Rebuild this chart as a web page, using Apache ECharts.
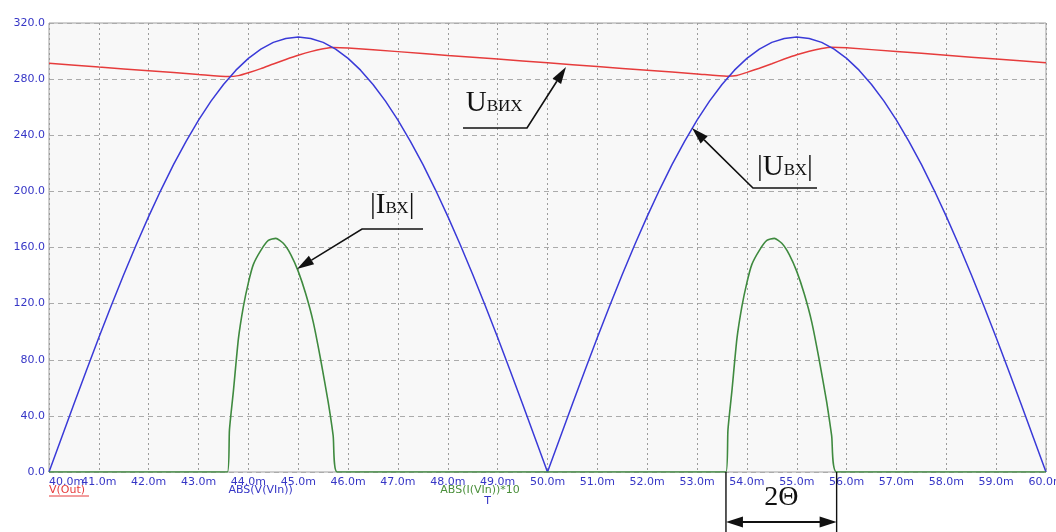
<!DOCTYPE html>
<html><head><meta charset="utf-8">
<script src="https://cdn.jsdelivr.net/npm/echarts@6/dist/echarts.min.js"></script>
<style>html,body{margin:0;padding:0;background:#fff;}#c{width:1056px;height:532px;}</style>
</head><body><div id="c"></div>
<script>
// ---- data (time in ms) ----
const xTickLabels = ['40.0m','41.0m','42.0m','43.0m','44.0m','45.0m','46.0m','47.0m','48.0m','49.0m','50.0m',
  '51.0m','52.0m','53.0m','54.0m','55.0m','56.0m','57.0m','58.0m','59.0m','60.0m'];
const yTickLabels = ['0.0','40.0','80.0','120.0','160.0','200.0','240.0','280.0','320.0'];

// |V(VIn)| sampled every 0.25 ms from 40.0 ms
const vinStart = 40, vinStep = 0.25;
const vinAbs = [
  0,24.3,48.5,72.4,95.8,118.6,140.7,162.0,182.2,201.3,219.2,235.7,250.8,264.3,276.2,286.4,294.8,301.4,306.2,309.0,310,
  309.0,306.2,301.4,294.8,286.4,276.2,264.3,250.8,235.7,219.2,201.3,182.2,162.0,140.7,118.6,95.8,72.4,48.5,24.3,0,
  24.3,48.5,72.4,95.8,118.6,140.7,162.0,182.2,201.3,219.2,235.7,250.8,264.3,276.2,286.4,294.8,301.4,306.2,309.0,310,
  309.0,306.2,301.4,294.8,286.4,276.2,264.3,250.8,235.7,219.2,201.3,182.2,162.0,140.7,118.6,95.8,72.4,48.5,24.3,0
];

// V(Out)
const voutTime = [40,41,42,43,43.6,43.8,44,44.25,44.5,44.75,45,45.25,45.5,45.7,46,47,48,49,50,51,52,53,53.6,
  53.8,54,54.25,54.5,54.75,55,55.25,55.5,55.7,56,57,58,59,60];
const voutVal = [291.3,288.6,286.0,283.3,281.8,282.5,284.5,287.5,290.8,294.0,297.0,299.6,301.6,302.6,302.2,299.6,296.9,294.3,291.6,289.0,286.3,283.7,282.1,
  282.6,284.8,287.8,291.0,294.3,297.4,299.9,301.8,302.7,302.3,299.7,297.0,294.3,291.6];

// ABS(I(VIn))*10
const iinTime = [40,43.58,43.62,43.7,43.8,43.9,44.0,44.1,44.25,44.4,44.55,44.7,44.85,45.0,45.15,45.3,45.45,45.6,45.7,45.78,
  53.58,53.62,53.7,53.8,53.9,54.0,54.1,54.25,54.4,54.55,54.7,54.85,55.0,55.15,55.3,55.45,55.6,55.7,55.8,60];
const iinVal = [0,0,30,58,95,118,135,148,158,165,166.5,163,155,143,127,107,80,50,26,0,
  0,30,58,95,118,135,148,158,165,166.5,163,155,143,127,107,80,50,26,0,0];

const legendTexts = ['V(Out)','ABS(V(VIn))','ABS(I(VIn))*10','T'];

// ---- build ----
const chart = echarts.init(document.getElementById('c'));
const vinData = vinAbs.map((v,i)=>[vinStart + i*vinStep, v]);
const voutData = voutTime.map((t,i)=>[t, voutVal[i]]);
const iinData = iinTime.map((t,i)=>[t, iinVal[i]]);

const labelColor = '#3636c6';
const labelFont = {color:labelColor,fontFamily:'DejaVu Sans',fontSize:11};
chart.setOption({
  animation:false,
  backgroundColor:'#ffffff',
  grid:{left:49,right:10,top:23,bottom:60,containLabel:false,outerBoundsMode:'none',
    show:true,borderColor:'#a0a0a0',borderWidth:1,backgroundColor:'#f8f8f8'},
  xAxis:{type:'value',min:40,max:60,interval:1,
    axisLine:{show:false},axisTick:{show:false},
    axisLabel:Object.assign({margin:5,hideOverlap:false,showMinLabel:false,showMaxLabel:true,
      formatter:(v)=>xTickLabels[Math.round(v-40)]},labelFont),
    splitLine:{show:true,lineStyle:{color:'#9c9c9c',type:[2,3],width:1}}},
  yAxis:{type:'value',min:0,max:320,interval:40,
    axisLine:{show:false},axisTick:{show:false},
    axisLabel:Object.assign({margin:4,formatter:(v)=>yTickLabels[Math.round(v/40)]},labelFont),
    splitLine:{show:true,lineStyle:{color:'#ababab',type:[5,4],width:1}}},
  series:[
    {type:'line',data:voutData,showSymbol:false,smooth:0.2,lineStyle:{color:'#e63c3c',width:1.5},z:2},
    {type:'line',data:vinData,showSymbol:false,lineStyle:{color:'#3a3ad8',width:1.5},z:3},
    {type:'line',data:iinData,showSymbol:false,smooth:0.2,lineStyle:{color:'#3f8a3f',width:1.6},z:4}
  ]
});

// ---- annotations (anchored in data coordinates) ----
const P = (t,v)=>chart.convertToPixel({gridIndex:0},[t,v]);
const g = [];
const ink = '#111';
function arrowHead(tip, from, L, W){
  const dx = tip[0]-from[0], dy = tip[1]-from[1];
  const len = Math.hypot(dx,dy), ux = dx/len, uy = dy/len;
  const bx = tip[0]-ux*L, by = tip[1]-uy*L;
  return {base:[bx,by], pts:[tip,[bx-uy*W,by+ux*W],[bx+uy*W,by-ux*W]]};
}
function leader(ul0, ul1, tipData){
  const a = P(ul0[0],ul0[1]), b = P(ul1[0],ul1[1]), tip = P(tipData[0],tipData[1]);
  const start = ul0[2] === 'right' ? b : a;
  const h = arrowHead(tip, start, 17, 5);
  g.push({type:'polyline',shape:{points:[ul0[2]==='right'?a:b, start, h.base]},style:{stroke:ink,lineWidth:1.6,fill:null},z:10});
  g.push({type:'polygon',shape:{points:h.pts},style:{fill:ink},z:10});
}
function label(t,v,parts){
  const p = P(t,v);
  g.push({type:'text',x:p[0],y:p[1],z:10,style:{
    text:parts, align:'left', verticalAlign:'bottom', fill:ink,
    rich:{u:{fontFamily:'Liberation Serif',fontSize:29,fill:ink,verticalAlign:'bottom'},
          s:{fontFamily:'Liberation Serif',fontSize:17,fill:ink,verticalAlign:'bottom',padding:[0,0,3,0]}}}});
}
// Uвих
leader([48.305,245.2,'right'],[49.589,245.2],[50.371,288.7]);
label(48.36,252.3,'{u|U}{s|ВИХ}');
// |Uвх|
leader([54.122,202.4,'left'],[55.406,202.4],[52.899,245.2]);
label(54.203,206.7,'{u||U}{s|ВХ}{u||}');
// |Iвх|
leader([46.279,173.2,'left'],[47.503,173.2],[44.975,144.7]);
label(46.439,179.6,'{u||I}{s|ВХ}{u||}');

// 2Θ dimension
const H = chart.getHeight();
const d0 = P(53.58,0), d1 = P(55.80,0);
g.push({type:'line',shape:{x1:d0[0],y1:d0[1],x2:d0[0],y2:H},style:{stroke:ink,lineWidth:1.4},z:10});
g.push({type:'line',shape:{x1:d1[0],y1:d1[1],x2:d1[0],y2:H},style:{stroke:ink,lineWidth:1.4},z:10});
const ay = d0[1]+50;
g.push({type:'line',shape:{x1:d0[0]+14,y1:ay,x2:d1[0]-14,y2:ay},style:{stroke:ink,lineWidth:1.8},z:10});
[[d0[0],d1[0]],[d1[0],d0[0]]].forEach(([tx,fx])=>{
  const h = arrowHead([tx,ay],[fx,ay],17,5.5);
  g.push({type:'polygon',shape:{points:h.pts},style:{fill:ink},z:10});
});
g.push({type:'text',x:(d0[0]+d1[0])/2,y:d0[1]+26,z:10,style:{text:'2Θ',fontFamily:'Liberation Serif',fontSize:28,fill:ink,align:'center',verticalAlign:'middle'}});

// first x tick label, left-aligned at the axis start (overlapped by the next one, as in the source)
const o0 = P(40,0);
g.push({type:'text',x:o0[0],y:o0[1]+5,z:1,style:{text:xTickLabels[0],fontFamily:labelFont.fontFamily,fontSize:labelFont.fontSize,
  fill:labelColor,align:'left',verticalAlign:'top'}});

// trace names under the axis
const trace = [
  {t:40.0, dy:18, c:'#e63c3c', txt:legendTexts[0], ul:true},
  {t:43.6, dy:18, c:labelColor, txt:legendTexts[1]},
  {t:47.85, dy:18, c:'#4a8f3a', txt:legendTexts[2]},
  {t:48.73, dy:29, c:labelColor, txt:legendTexts[3]}
];
trace.forEach(o=>{
  const p = P(o.t,0);
  g.push({type:'text',x:p[0],y:p[1]+o.dy,z:10,style:{text:o.txt,fontFamily:'DejaVu Sans',fontSize:11,fill:o.c,align:'left',verticalAlign:'middle'}});
  if(o.ul){
    g.push({type:'line',shape:{x1:p[0],y1:p[1]+o.dy+6,x2:p[0]+40,y2:p[1]+o.dy+6},style:{stroke:o.c,lineWidth:1},z:10});
  }
});
chart.setOption({graphic:g});
</script>
</body></html>
